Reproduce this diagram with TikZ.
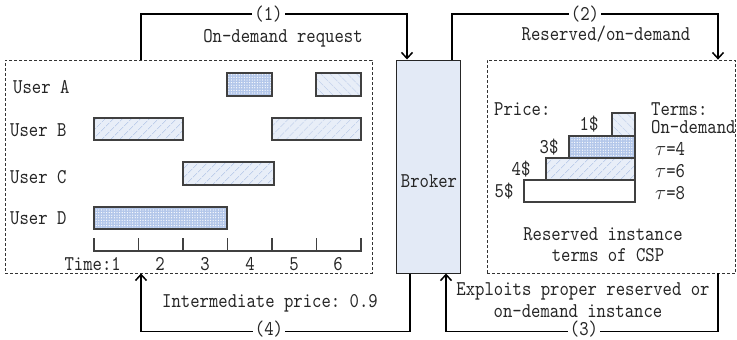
\documentclass[tikz,border=0pt]{standalone}
\usepackage{fontspec}
\setmonofont{lmmono10-regular}[Extension=.otf,FakeStretch=0.85]
\usetikzlibrary{arrows.meta,patterns.meta}
\definecolor{brokerfill}{HTML}{E3EAF6}
\definecolor{hfill}{HTML}{E8EEF8}
\definecolor{hline}{HTML}{A8BDE3}
\definecolor{dfill}{HTML}{B3C7EA}
\newcommand\fsz{\fontsize{21}{25}\selectfont}
\begin{document}
\begin{tikzpicture}[x=1pt,y=-1pt,
  txt/.style={inner sep=0pt,font=\fsz\ttfamily,text=black!85},
  lbl/.style={txt,fill=white,inner xsep=2pt,inner ysep=0pt},
  dbox/.style={draw=black!80,densely dashed,line width=0.8pt,inner sep=0pt},
  conn/.style={line width=1.5pt,-{Straight Barb[length=6pt,width=11pt]}},
  bar/.style={draw=black!75,line width=1.1pt},
  hne/.style={bar,preaction={fill=hfill},pattern={Lines[angle=45,distance=6.5pt,line width=0.6pt]},pattern color=hline},
  hnw/.style={bar,preaction={fill=hfill},pattern={Lines[angle=-45,distance=6.5pt,line width=0.6pt]},pattern color=hline},
  dotbar/.style={bar,preaction={fill=dfill},pattern={Dots[distance=2.6pt,radius=0.65pt]},pattern color=white},
]
\useasboundingbox (0,0) rectangle (737,340);

% boxes
\node[dbox,minimum width=367pt,minimum height=213pt] (lbox) at (188.5,166.5) {};
\node[draw=black!85,fill=brokerfill,line width=1pt,minimum width=64pt,minimum height=213pt,inner sep=0pt] (broker) at (428,166.5) {};
\node[txt,anchor=base] (brokertxt) at (429,187) {Broker};
\node[dbox,minimum width=248.5pt,minimum height=213pt] (rbox) at (611.25,166.5) {};

% connectors
\draw[conn] ([xshift=-47.5pt]lbox.north) -- ++(0,-45.5) -| ([xshift=-21pt]broker.north);
\draw[conn] ([xshift=24pt]broker.north) -- ++(0,-45.5) -| ([xshift=106.75pt]rbox.north);
\draw[conn] ([xshift=-18pt]broker.south) -- ++(0,58) -| ([xshift=-47.5pt]lbox.south);
\draw[conn] ([xshift=106.75pt]rbox.south) -- ++(0,58) -| ([xshift=18pt]broker.south);

\node[lbl] (l1) at (268.5,14.5) {(1)};
\node[lbl] (l2) at (585,14.5) {(2)};
\node[lbl] (l4) at (269,329.5) {(4)};
\node[lbl] (l3) at (584,329.5) {(3)};

\node[txt,anchor=base] (t1) at (283,42) {On-demand request};
\node[txt,anchor=base] (t2) at (606,41) {Reserved/on-demand};
\node[txt,anchor=base] (t4) at (270,307) {Intermediate price: 0.9};
\node[txt,anchor=base] (t3a) at (583,295) {Exploits proper reserved or};
\node[txt,anchor=base] (t3b) at (578,317) {on-demand instance};

% users
\node[txt,anchor=base west] (ua) at (13,93) {User A};
\node[txt,anchor=base west] (ub) at (10,136) {User B};
\node[txt,anchor=base west] (uc) at (10,183) {User C};
\node[txt,anchor=base west] (ud) at (10,224) {User D};

\draw[dotbar] (227,73) rectangle (272,96);
\draw[hnw] (316,73) rectangle (361,96);
\draw[hne] (94,118) rectangle (183,140);
\draw[hne] (272,118) rectangle (361,140);
\draw[hne] (183,162) rectangle (274,185);
\draw[dotbar] (94,207) rectangle (227,229);

% time axis
\draw[bar] (94,238) -- (94,251) -- (361,251) -- (361,238);
\foreach \x in {138.5,183,227.5,272,316.5} \draw[bar] (\x,238) -- (\x,251);
\node[txt,anchor=base east] (tm) at (121,270) {Time:1};
\node[txt,anchor=base] (tk2) at (160,270) {2};
\node[txt,anchor=base] (tk3) at (205,270) {3};
\node[txt,anchor=base] (tk4) at (250,270) {4};
\node[txt,anchor=base] (tk5) at (294,270) {5};
\node[txt,anchor=base] (tk6) at (338,270) {6};

% price stair
\draw[bar,fill=white] (524,180) rectangle (635,202);
\draw[hne] (546,158) rectangle (635,180);
\draw[dotbar] (569,136) rectangle (635,158);
\draw[hnw] (612,113) rectangle (635,136);

\node[txt,anchor=base west] (pr) at (494,115) {Price:};
\node[txt,anchor=base west] (tr) at (651,115) {Terms:};
\node[txt,anchor=base west] (od) at (651,133) {On-demand};
\node[txt,anchor=base west] (ta4) at (655,155) {$\tau$=4};
\node[txt,anchor=base west] (ta6) at (655,177) {$\tau$=6};
\node[txt,anchor=base west] (ta8) at (655,199) {$\tau$=8};
\node[txt,anchor=base] (p1) at (589,130) {1\$};
\node[txt,anchor=base] (p3) at (549,153) {3\$};
\node[txt,anchor=base] (p4) at (521,175) {4\$};
\node[txt,anchor=base] (p5) at (504,197) {5\$};
\node[txt,anchor=base] (ri1) at (603,240) {Reserved instance};
\node[txt,anchor=base] (ri2) at (608,261) {terms of CSP};
\end{tikzpicture}
\end{document}
